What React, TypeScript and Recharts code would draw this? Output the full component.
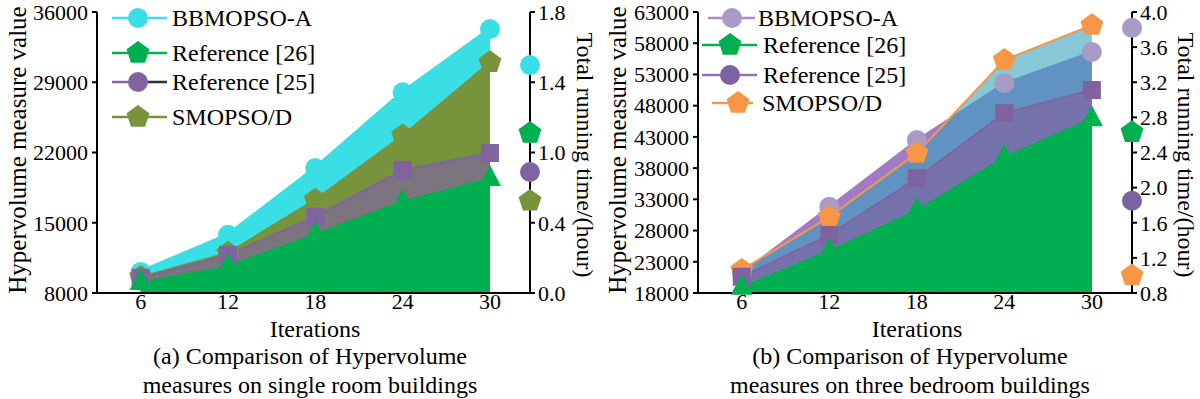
import { Area, ComposedChart, Scatter, XAxis, YAxis } from "recharts";

const iterations = [6, 12, 18, 24, 30];
const X_MIN = 3;
const X_MAX = 32.75;

// (a) single room buildings
const singleBbmopso = [10100, 13800, 20450, 28000, 34300];
const singleRef26 = [9100, 10700, 13900, 17150, 19450];
const singleRef25 = [9500, 11800, 15600, 20250, 21950];
const singleSmopso = [9600, 12000, 17300, 23700, 31000];
// running time (hour): BBMOPSO-A, Reference [26], Reference [25], SMOPSO/D
const singleRunTime = [1.46, 1.025, 0.775, 0.59];
const singleLeftTicks = [8000, 15000, 22000, 29000, 36000];
const singleRightTicks = [0, 0.45, 0.9, 1.35, 1.8];
const singleRightTickLabels = ["0.0", "0.4", "1.0", "1.4", "1.8"];

// (b) three bedroom buildings
const bedroomBbmopso = [21200, 31800, 42500, 51600, 56600];
const bedroomRef26 = [19000, 24800, 31300, 39800, 46000];
const bedroomRef25 = [20600, 27300, 36400, 46800, 50500];
const bedroomSmopso = [21700, 30200, 40400, 55300, 60900];
const bedroomRunTime = [3.82, 2.63, 1.85, 1.0];
const bedroomLeftTicks = [18000, 23000, 28000, 33000, 38000, 43000, 48000, 53000, 58000, 63000];
const bedroomRightTicks = [0.8, 1.2, 1.6, 2.0, 2.4, 2.8, 3.2, 3.6, 4.0];

const seriesNames = ["BBMOPSO-A", "Reference [26]", "Reference [25]", "SMOPSO/D"];

const font = '"Liberation Serif", Tinos, "Times New Roman", "DejaVu Serif", serif';
const axisStyle = { stroke: "#000", strokeWidth: 2 };
const tickStyle = { fill: "#000", fontSize: 22, fontFamily: font };

type Shape = "circle" | "square" | "pentagon" | "triangle";

const Marker = ({ cx, cy, shape, color }: { cx: number; cy: number; shape: Shape; color: string }) => {
  if (cx == null || cy == null) return null;
  if (shape === "circle") return <circle cx={cx} cy={cy} r={10} fill={color} />;
  if (shape === "square") return <rect x={cx - 9} y={cy - 9} width={18} height={18} fill={color} />;
  if (shape === "triangle") {
    return <polygon points={`${cx},${cy - 13} ${cx + 11},${cy + 8} ${cx - 11},${cy + 8}`} fill={color} />;
  }
  const pts = [0, 1, 2, 3, 4]
    .map((i) => {
      const a = ((-90 + i * 72) * Math.PI) / 180;
      return `${cx + 12 * Math.cos(a)},${cy + 12 * Math.sin(a)}`;
    })
    .join(" ");
  return <polygon points={pts} fill={color} />;
};

type Series = {
  key: string;
  values: number[];
  fill: string;
  fillOpacity: number;
  stroke: string;
  strokeWidth: number;
  marker: Shape;
  markerColor: string;
};

type LegendRow = {
  name: string;
  y: number;
  x1: number;
  x2: number;
  mx: number;
  tx: number;
  line: string;
  lineRight?: string;
  marker: Shape;
  color: string;
};

type PanelProps = {
  left: number;
  leftWidth: number;
  rightWidth: number;
  leftDomain: number[];
  leftTicks: number[];
  rightDomain: number[];
  rightTicks: number[];
  rightFormat: (v: number, i: number) => string;
  series: Series[];
  runTime: { value: number; marker: Shape; color: string }[];
  legend: LegendRow[];
  leftTitleX: number;
  rightTitleX: number;
  xTitleX: number;
  captionX: number;
  caption: string[];
};

const Panel = (p: PanelProps) => {
  const rows = iterations.map((iter, i) => {
    const r: Record<string, number> = { iter };
    p.series.forEach((s) => (r[s.key] = s.values[i]));
    return r;
  });

  return (
    <div style={{ position: "absolute", left: p.left, top: 0, width: 600, height: 399, fontFamily: font }}>
      <ComposedChart width={600} height={399} data={rows} margin={{ top: 12, right: 0, bottom: 0, left: 0 }}>
        <XAxis
          dataKey="iter"
          type="number"
          domain={[X_MIN, X_MAX]}
          ticks={iterations}
          interval={0}
          height={106}
          tickLine={false}
          tickSize={0}
          tickMargin={0}
          axisLine={axisStyle}
          tick={tickStyle}
        />
        <YAxis
          yAxisId="left"
          width={p.leftWidth}
          domain={p.leftDomain}
          ticks={p.leftTicks}
          interval={0}
          tickSize={5}
          tickMargin={4}
          axisLine={axisStyle}
          tickLine={axisStyle}
          tick={tickStyle}
        />
        <YAxis
          yAxisId="right"
          orientation="right"
          width={p.rightWidth}
          domain={p.rightDomain}
          ticks={p.rightTicks}
          interval={0}
          tickSize={5}
          tickMargin={3}
          axisLine={axisStyle}
          tickLine={axisStyle}
          tick={tickStyle}
          tickFormatter={p.rightFormat}
        />
        {p.series.map((s) => (
          <Area
            key={s.key}
            yAxisId="left"
            type="linear"
            dataKey={s.key}
            fill={s.fill}
            fillOpacity={s.fillOpacity}
            stroke={s.stroke}
            strokeWidth={s.strokeWidth}
            dot={false}
            activeDot={false}
            isAnimationActive={false}
          />
        ))}
        {p.series.map((s) => (
          <Scatter
            key={s.key + "-marks"}
            yAxisId="left"
            data={rows.map((r) => ({ iter: r.iter, value: r[s.key] }))}
            dataKey="value"
            isAnimationActive={false}
            shape={(props: any) => <Marker cx={props.cx} cy={props.cy} shape={s.marker} color={s.markerColor} />}
          />
        ))}
        {p.runTime.map((t, i) => (
          <Scatter
            key={"time-" + i}
            yAxisId="right"
            data={[{ iter: X_MAX, value: t.value }]}
            dataKey="value"
            isAnimationActive={false}
            shape={(props: any) => <Marker cx={props.cx} cy={props.cy} shape={t.marker} color={t.color} />}
          />
        ))}
      </ComposedChart>

      <svg width={600} height={140} style={{ position: "absolute", left: 0, top: 0, pointerEvents: "none" }}>
        {p.legend.map((row) => (
          <g key={row.name}>
            <line x1={row.x1} x2={row.mx} y1={row.y} y2={row.y} stroke={row.line} strokeWidth={2.5} />
            <line x1={row.mx} x2={row.x2} y1={row.y} y2={row.y} stroke={row.lineRight || row.line} strokeWidth={2.5} />
            <Marker cx={row.mx} cy={row.y} shape={row.marker} color={row.color} />
            <text x={row.tx} y={row.y} dominantBaseline="central" fontSize={24} fontFamily={font} fill="#000">
              {row.name}
            </text>
          </g>
        ))}
      </svg>

      <div
        style={{
          position: "absolute",
          left: p.leftTitleX,
          top: 150,
          transform: "translate(-50%, -50%) rotate(-90deg)",
          whiteSpace: "nowrap",
          fontSize: 25,
          lineHeight: 1,
        }}
      >
        Hypervolume measure value
      </div>
      <div
        style={{
          position: "absolute",
          left: p.rightTitleX,
          top: 155,
          transform: "translate(-50%, -50%) rotate(90deg)",
          whiteSpace: "nowrap",
          fontSize: 24,
          lineHeight: 1,
        }}
      >
        Total running time/(hour)
      </div>
      <div
        style={{
          position: "absolute",
          left: p.xTitleX,
          top: 319,
          transform: "translateX(-50%)",
          whiteSpace: "nowrap",
          fontSize: 24,
          lineHeight: "20px",
        }}
      >
        Iterations
      </div>
      <div
        style={{
          position: "absolute",
          left: p.captionX,
          top: 342,
          transform: "translateX(-50%)",
          whiteSpace: "nowrap",
          textAlign: "center",
          fontSize: 24,
          lineHeight: "29px",
        }}
      >
        {p.caption[0]}
        <br />
        {p.caption[1]}
      </div>
    </div>
  );
};

const App = () => {
  const singleSeries: Series[] = [
    { key: "bb", values: singleBbmopso, fill: "#3ADFE6", fillOpacity: 1, stroke: "#3ADFE6", strokeWidth: 4, marker: "circle", markerColor: "#3ADFE6" },
    { key: "sm", values: singleSmopso, fill: "#77933C", fillOpacity: 1, stroke: "#77933C", strokeWidth: 2, marker: "pentagon", markerColor: "#77933C" },
    { key: "r25", values: singleRef25, fill: "#8064A2", fillOpacity: 0.65, stroke: "#8064A2", strokeWidth: 2, marker: "square", markerColor: "#8064A2" },
    { key: "r26", values: singleRef26, fill: "#00B050", fillOpacity: 1, stroke: "#00B050", strokeWidth: 1, marker: "triangle", markerColor: "#00B050" },
  ];
  const bedroomSeries: Series[] = [
    { key: "bb", values: bedroomBbmopso, fill: "#A07CC5", fillOpacity: 1, stroke: "#A07CC5", strokeWidth: 2, marker: "circle", markerColor: "#A99BC6" },
    { key: "sm", values: bedroomSmopso, fill: "#35A3BE", fillOpacity: 0.6, stroke: "#F79646", strokeWidth: 2, marker: "pentagon", markerColor: "#F79646" },
    { key: "r25", values: bedroomRef25, fill: "#8064A2", fillOpacity: 0.7, stroke: "#8064A2", strokeWidth: 2, marker: "square", markerColor: "#7F63A0" },
    { key: "r26", values: bedroomRef26, fill: "#00B050", fillOpacity: 1, stroke: "#00B050", strokeWidth: 1, marker: "triangle", markerColor: "#00B050" },
  ];

  const singleTimeMarks = [
    { value: singleRunTime[0], marker: "circle" as Shape, color: "#3ADFE6" },
    { value: singleRunTime[1], marker: "pentagon" as Shape, color: "#00B050" },
    { value: singleRunTime[2], marker: "circle" as Shape, color: "#8064A2" },
    { value: singleRunTime[3], marker: "pentagon" as Shape, color: "#77933C" },
  ];
  const bedroomTimeMarks = [
    { value: bedroomRunTime[0], marker: "circle" as Shape, color: "#A99BC6" },
    { value: bedroomRunTime[1], marker: "pentagon" as Shape, color: "#00B050" },
    { value: bedroomRunTime[2], marker: "circle" as Shape, color: "#7B62A0" },
    { value: bedroomRunTime[3], marker: "pentagon" as Shape, color: "#F79646" },
  ];

  const singleLegend: LegendRow[] = [
    { name: seriesNames[0], y: 18, x1: 112, x2: 167, mx: 138, tx: 172, line: "#3ADFE6", marker: "circle", color: "#3ADFE6" },
    { name: seriesNames[1], y: 53, x1: 112, x2: 167, mx: 138, tx: 172, line: "#00B050", marker: "pentagon", color: "#00B050" },
    { name: seriesNames[2], y: 82, x1: 112, x2: 167, mx: 138, tx: 172, line: "#8064A2", lineRight: "#333", marker: "circle", color: "#8064A2" },
    { name: seriesNames[3], y: 117, x1: 112, x2: 167, mx: 138, tx: 172, line: "#77933C", marker: "pentagon", color: "#77933C" },
  ];
  const bedroomLegend: LegendRow[] = [
    { name: seriesNames[0], y: 18, x1: 108, x2: 155, mx: 132, tx: 158, line: "#A48BC8", marker: "circle", color: "#A99BC6" },
    { name: seriesNames[1], y: 45, x1: 102, x2: 157, mx: 130, tx: 163, line: "#00B050", marker: "pentagon", color: "#00B050" },
    { name: seriesNames[2], y: 75, x1: 102, x2: 157, mx: 130, tx: 163, line: "#8D74B8", marker: "circle", color: "#7B62A0" },
    { name: seriesNames[3], y: 103, x1: 112, x2: 153, mx: 138, tx: 162, line: "#F79646", marker: "pentagon", color: "#F79646" },
  ];

  return (
    <div style={{ position: "absolute", left: 0, top: 0, width: 1200, height: 399, background: "#fff", overflow: "hidden" }}>
      <Panel
        left={0}
        leftWidth={97}
        rightWidth={70}
        leftDomain={[8000, 36000]}
        leftTicks={singleLeftTicks}
        rightDomain={[0, 1.8]}
        rightTicks={singleRightTicks}
        rightFormat={(_v, i) => singleRightTickLabels[i]}
        series={singleSeries}
        runTime={singleTimeMarks}
        legend={singleLegend}
        leftTitleX={17}
        rightTitleX={585}
        xTitleX={315}
        captionX={310}
        caption={["(a) Comparison of Hypervolume", "measures on single room buildings"]}
      />
      <Panel
        left={600}
        leftWidth={98}
        rightWidth={68}
        leftDomain={[18000, 63000]}
        leftTicks={bedroomLeftTicks}
        rightDomain={[0.8, 4.0]}
        rightTicks={bedroomRightTicks}
        rightFormat={(v) => v.toFixed(1)}
        series={bedroomSeries}
        runTime={bedroomTimeMarks}
        legend={bedroomLegend}
        leftTitleX={17}
        rightTitleX={586}
        xTitleX={317}
        captionX={310}
        caption={["(b) Comparison of Hypervolume", "measures on three bedroom buildings"]}
      />
    </div>
  );
};

export default App;
